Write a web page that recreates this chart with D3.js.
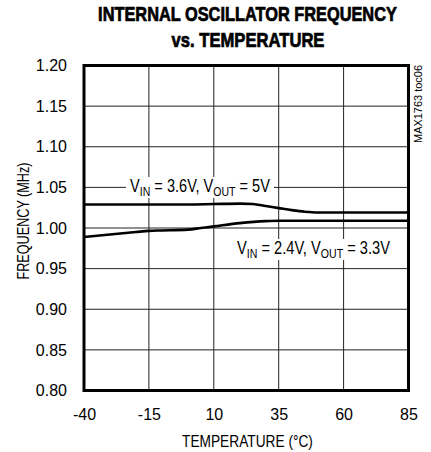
<!DOCTYPE html>
<html>
<head>
<meta charset="utf-8">
<script src="https://cdn.jsdelivr.net/npm/d3@7/dist/d3.min.js"></script>
<style>
	body { margin: 0; background: #fff; }
	text { font-family: "Liberation Sans", Arial, sans-serif; }
</style>
</head>
<body>
<div id="chart"></div>
<script>
// temperature (°C) and frequency (MHz)
var tempHigh = [-40, -25, -10, 0, 10, 20, 25, 30, 35, 40, 45, 50, 60, 70, 85];
var freqHigh = [1.029, 1.029, 1.029, 1.029, 1.0295, 1.030, 1.0295, 1.027, 1.0245, 1.022, 1.020, 1.019, 1.019, 1.019, 1.019];
var tempLow = [-40, -30, -20, -15, -10, 0, 5, 10, 20, 30, 35, 45, 60, 85];
var freqLow = [0.989, 0.992, 0.995, 0.9965, 0.997, 0.998, 1.000, 1.002, 1.006, 1.0085, 1.009, 1.009, 1.009, 1.009];
var xTicks = [-40, -15, 10, 35, 60, 85];
var yTicks = [0.80, 0.85, 0.90, 0.95, 1.00, 1.05, 1.10, 1.15, 1.20];

var width = 431, height = 452;
var margin = { top: 65.5, right: 22.5, bottom: 61.5, left: 84 };

var svg = d3.select("#chart").append("svg")
	.attr("width", width)
	.attr("height", height);

var x = d3.scaleLinear().domain([-40, 85]).range([margin.left, width - margin.right]);
var y = d3.scaleLinear().domain([0.80, 1.20]).range([height - margin.bottom, margin.top]);

// squeeze a text horizontally so it is w px wide (the originals use a condensed face)
function squeeze(t, cx, w) {
	var b = t.node().getBBox();
	var k = w / b.width;
	t.attr("transform", "translate(" + cx + ",0) scale(" + k + ",1) translate(" + (-cx) + ",0)");
}

// title
var t1 = svg.append("text")
	.attr("x", 247.5).attr("y", 21)
	.attr("text-anchor", "middle")
	.attr("stroke", "#000").attr("stroke-width", 0.7)
	.style("font-weight", "bold").style("font-size", "19.5px")
	.text("INTERNAL OSCILLATOR FREQUENCY");
squeeze(t1, 247.5, 299);
var t2 = svg.append("text")
	.attr("x", 248).attr("y", 47)
	.attr("text-anchor", "middle")
	.attr("stroke", "#000").attr("stroke-width", 0.7)
	.style("font-weight", "bold").style("font-size", "19.5px")
	.text("vs. TEMPERATURE");
squeeze(t2, 248, 153);

// grid
var grid = svg.append("g");
grid.selectAll("line.v")
	.data(xTicks.slice(1, -1))
	.enter().append("line")
	.attr("x1", function(d) { return x(d); })
	.attr("x2", function(d) { return x(d); })
	.attr("y1", y(0.80)).attr("y2", y(1.20))
	.attr("stroke", "#222").attr("stroke-width", 1);
grid.selectAll("line.h")
	.data(yTicks.slice(1, -1))
	.enter().append("line")
	.attr("y1", function(d) { return y(d); })
	.attr("y2", function(d) { return y(d); })
	.attr("x1", x(-40)).attr("x2", x(85))
	.attr("stroke", "#222").attr("stroke-width", 1);

// axes labels
var xAxis = d3.axisBottom(x).tickValues(xTicks).tickSize(0).tickPadding(18).tickFormat(function(d) { return String(d); });
var gx = svg.append("g")
	.attr("transform", "translate(0," + y(0.80) + ")")
	.call(xAxis);
var yAxis = d3.axisLeft(y).tickValues(yTicks).tickSize(0).tickPadding(17).tickFormat(d3.format(".2f"));
var gy = svg.append("g")
	.attr("transform", "translate(" + x(-40) + ",0)")
	.call(yAxis);
[gx, gy].forEach(function(g) {
	g.select(".domain").remove();
	g.selectAll("text")
		.style("font-size", "16px")
		.style("font-family", '"Liberation Sans", Arial, sans-serif')
		.attr("fill", "#000");
});

var xt = svg.append("text")
	.attr("x", 247.5).attr("y", 447)
	.attr("text-anchor", "middle")
	.style("font-size", "17px")
	.text("TEMPERATURE (\u00B0C)");
squeeze(xt, 247.5, 131);
svg.append("text")
	.attr("transform", "translate(29," + 221 + ") rotate(-90)")
	.attr("text-anchor", "middle")
	.attr("textLength", 117)
	.attr("lengthAdjust", "spacingAndGlyphs")
	.style("font-size", "17px")
	.text("FREQUENCY (MHz)");

svg.append("text")
	.attr("transform", "translate(422,65) rotate(-90)")
	.attr("text-anchor", "end")
	.attr("textLength", 78)
	.attr("lengthAdjust", "spacingAndGlyphs")
	.style("font-size", "10.5px")
	.text("MAX1763 toc06");

// curves
var line = d3.line()
	.x(function(d) { return x(d[0]); })
	.y(function(d) { return y(d[1]); })
	.curve(d3.curveMonotoneX);

var series = [d3.zip(tempHigh, freqHigh), d3.zip(tempLow, freqLow)];
svg.selectAll("path.curve")
	.data(series)
	.enter().append("path")
	.attr("class", "curve")
	.attr("d", line)
	.attr("fill", "none")
	.attr("stroke", "#000")
	.attr("stroke-width", 2.6);

// curve labels
function label(cx, cy, w, vin, vout) {
	var t = svg.append("text")
		.attr("x", cx).attr("y", cy)
		.attr("text-anchor", "middle")
		.style("font-size", "18px");
	t.append("tspan").text("V");
	t.append("tspan").attr("dy", 4).style("font-size", "13px").text("IN");
	t.append("tspan").attr("dy", -4).text(" = " + vin + ", V");
	t.append("tspan").attr("dy", 4).style("font-size", "13px").text("OUT");
	t.append("tspan").attr("dy", -4).text(" = " + vout);
	squeeze(t, cx, w);
	svg.insert("rect", function() { return t.node(); })
		.attr("x", cx - w / 2 - 4).attr("y", cy - 15)
		.attr("width", w + 8).attr("height", 21)
		.attr("fill", "#fff");
}
label(200, 192, 140, "3.6V", "5V");
label(313.5, 254, 153, "2.4V", "3.3V");

// frame
svg.append("rect")
	.attr("x", x(-40)).attr("y", y(1.20))
	.attr("width", x(85) - x(-40)).attr("height", y(0.80) - y(1.20))
	.attr("fill", "none")
	.attr("stroke", "#000")
	.attr("stroke-width", 3);
</script>
</body>
</html>
